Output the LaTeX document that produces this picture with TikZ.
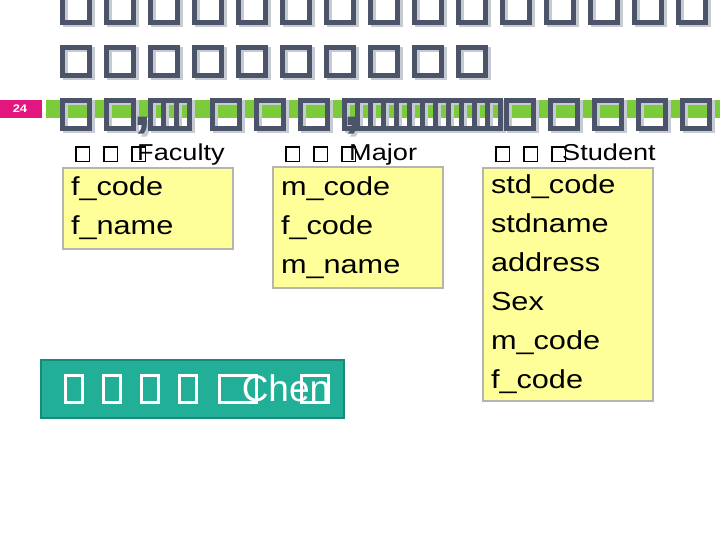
\documentclass[tikz,border=0pt]{standalone}
\usepackage{fontspec}
\setmainfont{Liberation Sans}[FakeStretch=1.18]
\newfontfamily\plainsans{Liberation Sans}
\usetikzlibrary{positioning}

\definecolor{slateink}{HTML}{4B5468}
\definecolor{slateshade}{HTML}{C6CBD3}
\definecolor{limebar}{HTML}{7CCB3B}
\definecolor{hotpink}{HTML}{E3167F}
\definecolor{paleyellow}{HTML}{FFFF99}
\definecolor{tableedge}{HTML}{B5B5AD}
\definecolor{tealbtn}{HTML}{22AF98}
\definecolor{tealedge}{HTML}{1A8A78}

% missing-glyph boxes: inner width, inner height, rule
\newcommand{\tofu}[3]{{\fboxsep=0pt\fboxrule=#3\fbox{\rule{0pt}{#2}\rule{#1}{0pt}}}}
\newcommand{\wtofu}{\makebox[44pt][l]{\tofu{22pt}{23pt}{5pt}}}
\newcommand{\ntofu}{\makebox[13pt][l]{\tofu{8pt}{23pt}{5pt}}}
\newcommand{\ltofu}{\tofu{12pt}{13pt}{1.5pt}}
\newcommand{\btofu}{\tofu{14pt}{24pt}{3pt}}

\tikzset{
  titleline/.style={anchor=base west,inner sep=0pt,font=\fontsize{56}{56}\selectfont\bfseries},
  tablelabel/.style={anchor=base west,inner sep=0pt,font=\fontsize{23}{23}\selectfont},
  tablebox/.style={draw=tableedge,line width=2pt,fill=paleyellow,anchor=north west,
    inner xsep=8pt,inner ysep=0pt,text width=154pt,align=left,
    font=\fontsize{26}{39}\selectfont},
  chenbtn/.style={draw=tealedge,line width=2pt,fill=tealbtn,anchor=north west,
    minimum width=303pt,minimum height=58pt,inner sep=0pt,text=white,
    font=\plainsans\fontsize{37}{37}\selectfont}
}

\begin{document}
\begin{tikzpicture}[x=1pt,y=-1pt]
  \useasboundingbox (0,0) rectangle (720,540);

  % Slide number and bar
  \fill[hotpink] (0,100) rectangle (42,118);
  \node[white,font=\fontsize{11}{11}\selectfont\bfseries] (slidenum) at (20,109) {24};
  \fill[limebar] (46,100) rectangle (720,118);

  % Title (shadow first)
  \foreach \d/\c in {2.5/slateshade,0/slateink} {
    \node[titleline,text=\c] (titleone) at (60+\d,20+\d)
      {\wtofu\wtofu\wtofu\wtofu\wtofu\wtofu\wtofu\wtofu\wtofu\wtofu\wtofu\wtofu\wtofu\wtofu\wtofu};
    \node[titleline,text=\c] (titletwo) at (60+\d,73+\d)
      {\wtofu\wtofu\wtofu\wtofu\wtofu\wtofu\wtofu\wtofu\wtofu\wtofu};
    \node[titleline,text=\c] (titlethree) at (60+\d,126+\d)
      {\wtofu\wtofu\makebox[0pt][r]{\smash{,}\hspace{-4pt}}\ntofu\ntofu\ntofu\hspace{23pt}\wtofu\wtofu\wtofu\makebox[0pt][l]{\hspace{1pt}\smash{,}}\ntofu\ntofu\ntofu\ntofu\ntofu\ntofu\ntofu\ntofu\ntofu\ntofu\ntofu\ntofu\hspace{6pt}\wtofu\wtofu\wtofu\wtofu\wtofu};
  }

  % Tables
  \node[tablelabel] (facultylabel) at (75,161)
    {\ltofu\hspace{13pt}\ltofu\hspace{13pt}\makebox[6pt][l]{\ltofu}Faculty};
  \node[tablebox,minimum height=81pt] (faculty) at (62,167) {f\_code\\f\_name};

  \node[tablelabel] (majorlabel) at (285,161)
    {\ltofu\hspace{13pt}\ltofu\hspace{13pt}\makebox[8pt][l]{\ltofu}Major};
  \node[tablebox,minimum height=121pt] (major) at (272,166) {m\_code\\f\_code\\m\_name};

  \node[tablelabel] (studentlabel) at (495,161)
    {\ltofu\hspace{13pt}\ltofu\hspace{13pt}\makebox[11pt][l]{\ltofu}Student};
  \node[tablebox,minimum height=233pt] (student) at (482,167)
    {std\_code\\stdname\\address\\Sex\\m\_code\\f\_code};

  % Chen button
  \node[chenbtn] (chen) at (40,359)
    {\hspace{9pt}\btofu\hspace{18pt}\btofu\hspace{18pt}\btofu\hspace{18pt}\btofu\hspace{20pt}\tofu{34pt}{24pt}{3pt}\hspace{-16pt}Chen\hspace{-30pt}\tofu{24pt}{24pt}{3pt}};
\end{tikzpicture}
\end{document}
